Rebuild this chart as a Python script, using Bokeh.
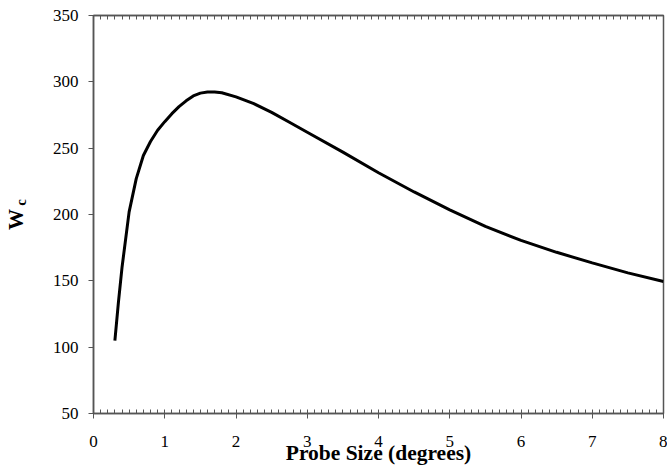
import math
from bokeh.plotting import figure
from bokeh.layouts import row
from bokeh.models import LinearAxis, Label, Range1d, FixedTicker
from bokeh.embed import file_html
from bokeh.resources import INLINE

# Data
probe_size = [0.3, 0.35, 0.4, 0.5, 0.6, 0.7, 0.8, 0.9, 1.0, 1.1, 1.2, 1.3, 1.4,
              1.5, 1.6, 1.7, 1.8, 2.0, 2.25, 2.5, 2.75, 3.0, 3.5, 4.0, 4.5,
              5.0, 5.5, 6.0, 6.5, 7.0, 7.5, 8.0]
wc = [105, 134, 160, 202, 227, 244.5, 255, 263.5, 270, 276, 281.3, 285.7, 289.4,
      291.5, 292.3, 292.4, 291.8, 288.7, 283.5, 277, 269.5, 262, 247, 231.5, 217,
      203.5, 191, 180.5, 171.5, 163.5, 156, 149.5]

x_ticks = [0, 1, 2, 3, 4, 5, 6, 7, 8]
x_minor_ticks = [i / 10 for i in range(81)]
y_ticks = [50, 100, 150, 200, 250, 300, 350]
x_title = "Probe Size (degrees)"
y_title_main = "W"
y_title_sub = "c"

FONT = "Liberation Serif"
AXIS_COLOR = "#555555"
H = 474
LEFT_W = 45
FRAME_BOTTOM = 413  # frames of the row's plots are aligned at this height

# Narrow strip on the left holding the rotated y-axis title
lp = figure(width=LEFT_W, height=H, output_backend="svg", toolbar_location=None,
            x_range=Range1d(0, 1), y_range=Range1d(0, 1),
            min_border_left=0, min_border_right=0, min_border_top=0,
            min_border_bottom=0, x_axis_type=None, y_axis_type=None)
lp.outline_line_color = None
lp.grid.visible = False
lp.background_fill_color = "white"
lp.border_fill_color = "white"
lp.add_layout(Label(x=15, y=FRAME_BOTTOM - 219, x_units="screen", y_units="screen",
                    text=y_title_main, angle=math.pi / 2, text_font=FONT,
                    text_font_size="21px", text_font_style="bold",
                    text_color="black", text_align="center",
                    text_baseline="middle"))
lp.add_layout(Label(x=20, y=FRAME_BOTTOM - 202, x_units="screen", y_units="screen",
                    text=y_title_sub, angle=math.pi / 2, text_font=FONT,
                    text_font_size="15px", text_font_style="bold",
                    text_color="black", text_align="center",
                    text_baseline="middle"))

p = figure(width=667 - LEFT_W, height=H, output_backend="svg",
           toolbar_location=None,
           x_range=Range1d(0, 8), y_range=Range1d(50, 350),
           min_border_left=93 - LEFT_W, min_border_right=4, min_border_top=15,
           min_border_bottom=61, x_axis_type=None, y_axis_type=None)
p.background_fill_color = "white"
p.border_fill_color = "white"
p.outline_line_color = AXIS_COLOR
p.outline_line_width = 1.5
p.grid.visible = False

xaxis = LinearAxis(ticker=FixedTicker(ticks=x_ticks, minor_ticks=x_minor_ticks))
xaxis.axis_label = x_title
xaxis.axis_label_text_font = FONT
xaxis.axis_label_text_font_size = "21.5px"
xaxis.axis_label_text_font_style = "bold"
xaxis.axis_label_text_color = "black"
xaxis.axis_label_standoff = -9
xaxis.major_label_text_font = FONT
xaxis.major_label_text_font_size = "17px"
xaxis.major_label_text_color = "black"
xaxis.major_label_standoff = 17
xaxis.major_tick_in = 0
xaxis.major_tick_out = 5
xaxis.minor_tick_in = 4
xaxis.minor_tick_out = 0
xaxis.axis_line_color = AXIS_COLOR
xaxis.major_tick_line_color = AXIS_COLOR
xaxis.minor_tick_line_color = AXIS_COLOR
xaxis.axis_line_width = 1.5
p.add_layout(xaxis, "below")

top = LinearAxis(ticker=FixedTicker(ticks=[], minor_ticks=x_minor_ticks))
top.major_tick_in = 0
top.major_tick_out = 0
top.minor_tick_in = 4
top.minor_tick_out = 0
top.axis_line_color = AXIS_COLOR
top.minor_tick_line_color = AXIS_COLOR
top.axis_line_width = 1.5
p.add_layout(top, "above")

yaxis = LinearAxis(ticker=FixedTicker(ticks=y_ticks))
yaxis.major_label_text_font = FONT
yaxis.major_label_text_font_size = "17px"
yaxis.major_label_text_color = "black"
yaxis.major_label_standoff = 10
yaxis.major_tick_in = 0
yaxis.major_tick_out = 5
yaxis.minor_tick_line_color = None
yaxis.axis_line_color = AXIS_COLOR
yaxis.major_tick_line_color = AXIS_COLOR
yaxis.axis_line_width = 1.5
p.add_layout(yaxis, "left")

p.line(probe_size, wc, line_color="black", line_width=3)

layout = row(lp, p, spacing=0)
open("out.html", "w").write(file_html(layout, INLINE))
